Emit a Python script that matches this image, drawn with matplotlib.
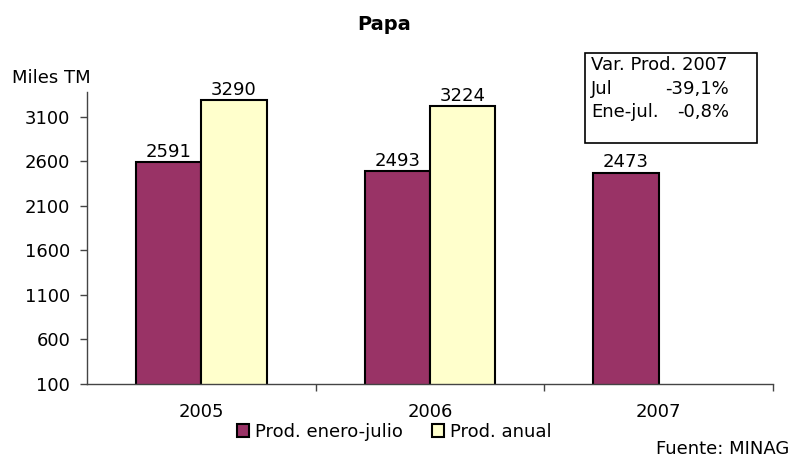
import numpy as np
import matplotlib.pyplot as plt
from matplotlib.patches import Rectangle

plt.rcParams['font.family'] = ['DejaVu Sans']

years = ['2005', '2006', '2007']
prod_ene_jul = [2591, 2493, 2473]
prod_anual = [3290, 3224, None]
yticks = [100, 600, 1100, 1600, 2100, 2600, 3100]

fs = 13
fig = plt.figure(figsize=(8.01, 4.61), dpi=100)
ax = fig.add_axes([87 / 801, 1 - 384 / 461, (773 - 87) / 801, (384 - 92) / 461])

x = np.arange(len(years))
w = 0.285
maroon = '#993366'
cream = '#FFFFCC'

b1 = ax.bar(x - w / 2, prod_ene_jul, w, color=maroon, edgecolor='black',
            linewidth=1.5, label='Prod. enero-julio')
xa = [xi for xi, v in zip(x, prod_anual) if v is not None]
va = [v for v in prod_anual if v is not None]
b2 = ax.bar(np.array(xa) + w / 2, va, w, color=cream, edgecolor='black',
            linewidth=1.5, label='Prod. anual')

for xi, v in zip(x, prod_ene_jul):
    ax.text(xi - w / 2, v + 15, str(v), ha='center', va='bottom', fontsize=fs)
for xi, v in zip(xa, va):
    ax.text(xi + w / 2, v + 15, str(v), ha='center', va='bottom', fontsize=fs)

ax.set_ylim(100, 3380)
ax.set_xlim(-0.5, 2.5)
ax.set_yticks(yticks)
ax.set_yticklabels([str(t) for t in yticks], fontsize=fs)
ax.set_xticks(x)
ax.set_xticklabels(years, fontsize=fs)
ax.set_xticks([0.5, 1.5, 2.5], minor=True)
ax.tick_params(axis='x', which='major', length=0, pad=14)
ax.tick_params(axis='x', which='minor', length=5, width=1, color='#444444')
ax.tick_params(axis='y', length=5, width=1, color='#444444', pad=7)
for s in ['top', 'right']:
    ax.spines[s].set_visible(False)
for s in ['left', 'bottom']:
    ax.spines[s].set_color('#444444')
    ax.spines[s].set_linewidth(1)

fig.text(384 / 801, 1 - 25 / 461, 'Papa', ha='center', va='center',
         fontsize=14, fontweight='bold')
fig.text(12 / 801, 1 - 78 / 461, 'Miles TM', ha='left', va='center', fontsize=fs)

fig.patches.append(Rectangle((585 / 801, 1 - 143 / 461), (757 - 585) / 801, (143 - 53) / 461,
                             transform=fig.transFigure, facecolor='white',
                             edgecolor='black', linewidth=1.2))
fig.text(591 / 801, 1 - 65 / 461, 'Var. Prod. 2007', ha='left', va='center', fontsize=fs)
fig.text(591 / 801, 1 - 89 / 461, 'Jul', ha='left', va='center', fontsize=fs)
fig.text(729 / 801, 1 - 89 / 461, '-39,1%', ha='right', va='center', fontsize=fs)
fig.text(591 / 801, 1 - 112 / 461, 'Ene-jul.', ha='left', va='center', fontsize=fs)
fig.text(729 / 801, 1 - 112 / 461, '-0,8%', ha='right', va='center', fontsize=fs)

fig.legend(handles=[b1, b2], loc='center', bbox_to_anchor=(394 / 801, 1 - 432 / 461),
           ncol=2, frameon=False, fontsize=fs, handlelength=0.7, handleheight=0.7,
           handletextpad=0.3, columnspacing=1.6)

fig.text(656 / 801, 1 - 449 / 461, 'Fuente: MINAG', ha='left', va='center', fontsize=fs)

fig.savefig('out.png', dpi=100)
